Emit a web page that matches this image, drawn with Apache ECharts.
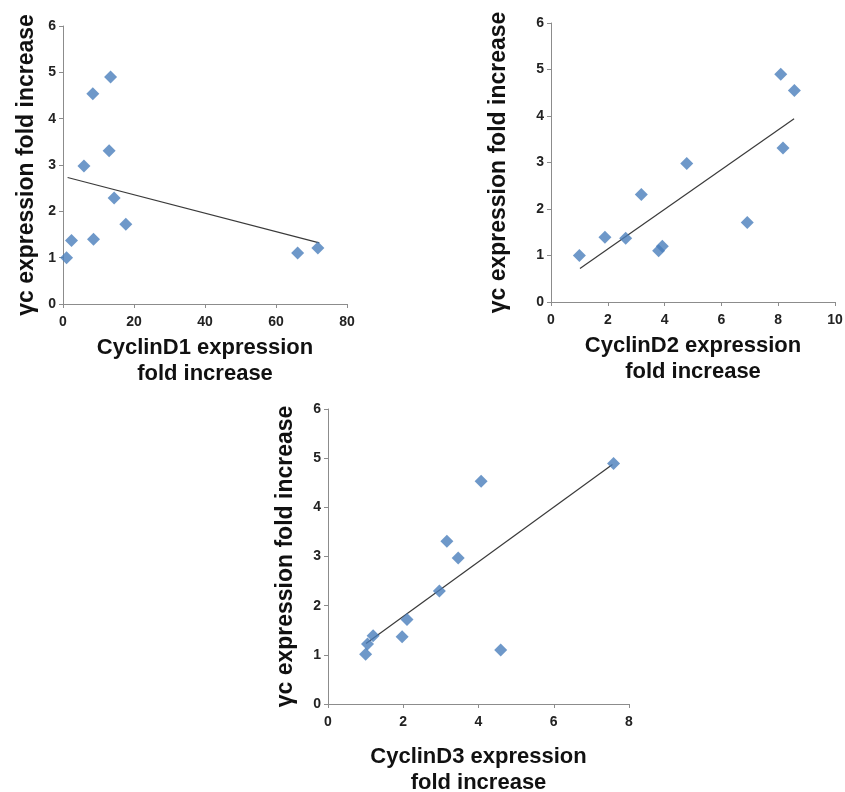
<!DOCTYPE html>
<html>
<head>
<meta charset="utf-8">
<script src="https://cdn.jsdelivr.net/npm/echarts@6/dist/echarts.min.js"></script>
<style>
  html, body { margin: 0; padding: 0; background: #fff; }
  #main { width: 845px; height: 792px; }
</style>
</head>
<body>
<div id="main"></div>
<script>
// γc fold increase vs each cyclin fold increase
var pointsD1 = [[1.0, 1.0], [2.4, 1.37], [8.6, 1.4], [5.9, 2.98], [8.4, 4.54], [13.4, 4.9],
    [13.0, 3.31], [14.4, 2.29], [17.7, 1.72], [66.1, 1.1], [71.8, 1.21]];
var pointsD2 = [[1.0, 1.0], [1.9, 1.39], [2.63, 1.37], [3.18, 2.31], [3.79, 1.1], [3.92, 1.2],
    [4.78, 2.98], [6.91, 1.71], [8.09, 4.9], [8.17, 3.31], [8.57, 4.55]];
var pointsD3 = [[1.0, 1.01], [1.05, 1.22], [1.2, 1.39], [1.97, 1.37], [2.1, 1.72], [2.96, 2.3],
    [3.16, 3.31], [3.46, 2.97], [4.07, 4.53], [4.59, 1.1], [7.59, 4.89]];

// linear trend lines (ends)
var trendD1 = [[1.3, 2.73], [72.2, 1.32]];
var trendD2 = [[1.02, 0.72], [8.56, 3.94]];
var trendD3 = [[1.01, 1.23], [7.56, 4.87]];

var xMax = [80, 10, 8];
var xStep = [20, 2, 2];
var xTitles = ['CyclinD1 expression\nfold increase', 'CyclinD2 expression\nfold increase', 'CyclinD3 expression\nfold increase'];
var yTitle = 'γc expression fold increase';

var myChart = echarts.init(document.getElementById('main'));

var font = 'Liberation Sans, Arial, sans-serif';
var axisLine = { show: true, lineStyle: { color: '#8c8c8c', width: 1 } };
var axisTick = { show: true, length: 4, lineStyle: { color: '#8c8c8c' } };
var axisLabel = { color: '#222', fontWeight: 'bold', fontSize: 14, fontFamily: font };
var xTitleStyle = { color: '#111', fontWeight: 'bold', fontSize: 22, fontFamily: font, lineHeight: 26 };
var yTitleStyle = { color: '#111', fontWeight: 'bold', fontSize: 23, fontFamily: font };

var grids = [
    { left: 63, top: 26, width: 284, height: 278, outerBoundsMode: 'none' },
    { left: 551, top: 23, width: 284, height: 279, outerBoundsMode: 'none' },
    { left: 328, top: 409, width: 301, height: 295, outerBoundsMode: 'none' }
];
var yGaps = [25, 41, 31];
var xGaps = [31, 31, 40];

var xAxes = [], yAxes = [], series = [];
var pts = [pointsD1, pointsD2, pointsD3];
var trends = [trendD1, trendD2, trendD3];

for (var i = 0; i < 3; i++) {
    xAxes.push({
        type: 'value', gridIndex: i, min: 0, max: xMax[i], interval: xStep[i],
        name: xTitles[i], nameLocation: 'middle', nameGap: xGaps[i],
        nameTextStyle: Object.assign({ verticalAlign: 'top' }, xTitleStyle),
        axisLine: axisLine, axisTick: axisTick,
        axisLabel: Object.assign({ margin: 11 }, axisLabel),
        splitLine: { show: false }
    });
    yAxes.push({
        type: 'value', gridIndex: i, min: 0, max: 6, interval: 1,
        name: yTitle, nameLocation: 'middle', nameGap: yGaps[i], nameRotate: 90,
        nameTextStyle: yTitleStyle,
        axisLine: axisLine, axisTick: axisTick,
        axisLabel: Object.assign({ margin: 7 }, axisLabel),
        splitLine: { show: false }
    });
    series.push({
        type: 'line', xAxisIndex: i, yAxisIndex: i, data: trends[i],
        symbol: 'none', lineStyle: { color: '#3a3a3a', width: 1.2 }, z: 2
    });
    series.push({
        type: 'scatter', xAxisIndex: i, yAxisIndex: i, data: pts[i],
        symbol: 'diamond', symbolSize: [13, 13],
        itemStyle: { color: '#4a7ebb' }, z: 3
    });
}

let option = {
    backgroundColor: '#fff',
    animation: false,
    grid: grids,
    xAxis: xAxes,
    yAxis: yAxes,
    series: series
};

myChart.setOption(option);
</script>
</body>
</html>
